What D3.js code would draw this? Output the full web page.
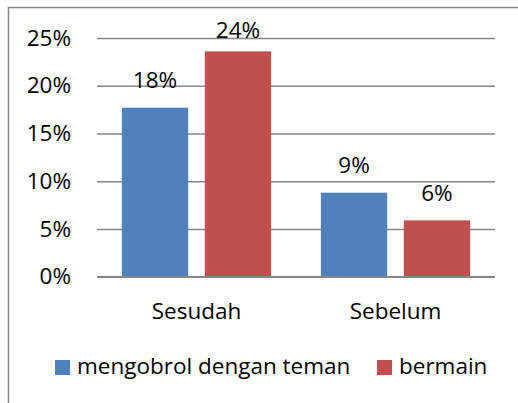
<!DOCTYPE html>
<html lang="en">
<head>
  <meta charset="UTF-8">
  <title>Chart</title>
  <script src="https://cdn.jsdelivr.net/npm/d3@7.6.1/dist/d3.min.js"></script>
  <style>
    body { margin: 0; background: #fff; }
    svg { display: block; font-family: "Open Sans", sans-serif; }
  </style>
</head>
<body>
  <div id="box"></div>
  <script>
    const categories = ['Sesudah', 'Sebelum']
    const seriesNames = ['mengobrol dengan teman', 'bermain']
    const chatValues = [17.7, 8.8]
    const playValues = [23.6, 5.9]
    const valueLabels = [['18%', '24%'], ['9%', '6%']]
    const yTicks = [0, 5, 10, 15, 20, 25]
    const colors = ['#4F81BD', '#C0504D']

    const width = 518
    const height = 403
    const margin = { left: 97, right: 23, top: 38, bottom: 126 }
    const fontSize = 22.5

    const svg = d3.select('#box').append('svg')
      .attr('width', width)
      .attr('height', height)

    // chart frame, cut off at right and bottom like the source
    svg.append('rect')
      .attr('x', 8.5).attr('y', 7.5)
      .attr('width', 540).attr('height', 440)
      .attr('fill', 'none')
      .attr('stroke', '#898989')
      .attr('stroke-width', 1.5)

    const x0 = d3.scaleBand().domain(categories)
      .range([margin.left, width - margin.right])
      .paddingInner(0.25).paddingOuter(0.125)
    const x1 = d3.scaleBand().domain(seriesNames)
      .range([0, x0.bandwidth()])
      .paddingInner(0.2)
    const y = d3.scaleLinear().domain([0, 25]).range([height - margin.bottom - 0.3, margin.top])

    // gridlines + y labels
    const yAxis = d3.axisLeft(y).tickValues(yTicks)
      .tickSize(-(width - margin.left - margin.right))
      .tickPadding(26)
      .tickFormat(d => d + '%')
    const gy = svg.append('g')
      .attr('transform', `translate(${margin.left},0)`)
      .call(yAxis)
    gy.select('.domain').remove()
    gy.selectAll('.tick line').attr('stroke', '#868686').attr('stroke-width', 1.5)
    gy.selectAll('.tick text')
      .attr('x', -26)
      .attr('font-size', fontSize)
      .attr('fill', '#000')
      .attr('font-family', '"Open Sans", sans-serif')

    const rows = categories.map((c, i) => ({ cat: c, vals: [chatValues[i], playValues[i]], labels: valueLabels[i] }))

    const groups = svg.append('g').selectAll('g')
      .data(rows).join('g')
      .attr('transform', d => `translate(${x0(d.cat)},0)`)

    groups.selectAll('rect')
      .data(d => d.vals.map((v, j) => ({ name: seriesNames[j], v, j })))
      .join('rect')
      .attr('x', d => x1(d.name))
      .attr('y', d => y(d.v))
      .attr('width', x1.bandwidth())
      .attr('height', d => y(0) - y(d.v))
      .attr('fill', d => colors[d.j])

    // value labels; the tallest one is held down at the top gridline
    groups.selectAll('text')
      .data(d => d.vals.map((v, j) => ({ name: seriesNames[j], v, j, label: d.labels[j] })))
      .join('text')
      .attr('x', d => x1(d.name) + x1.bandwidth() / 2)
      .attr('y', d => Math.max(y(d.v) - 19.5, y(25)))
      .attr('text-anchor', 'middle')
      .attr('font-size', fontSize)
      .text(d => d.label)

    // x axis baseline redrawn over bars
    svg.append('line')
      .attr('x1', margin.left).attr('x2', width - margin.right)
      .attr('y1', y(0)).attr('y2', y(0))
      .attr('stroke', '#868686').attr('stroke-width', 1.5)

    svg.append('g').selectAll('text')
      .data(categories).join('text')
      .attr('x', d => x0(d) + x0.bandwidth() / 2)
      .attr('y', 319)
      .attr('text-anchor', 'middle')
      .attr('font-size', fontSize)
      .text(d => d)

    // legend
    const legendX = [55, 377]
    const legend = svg.append('g').selectAll('g')
      .data(seriesNames).join('g')
      .attr('transform', (d, i) => `translate(${legendX[i]},360)`)
    legend.append('rect')
      .attr('width', 15).attr('height', 15)
      .attr('fill', (d, i) => colors[i])
    legend.append('text')
      .attr('x', 22).attr('y', 14)
      .attr('font-size', fontSize)
      .text(d => d)
  </script>
</body>
</html>
